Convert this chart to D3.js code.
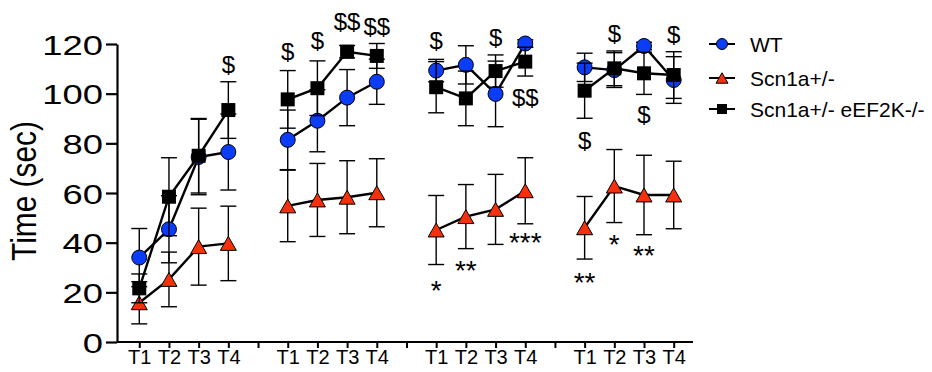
<!DOCTYPE html>
<html><head><meta charset="utf-8">
<script src="https://cdn.jsdelivr.net/npm/d3@7"></script>
<style>body{margin:0;background:#fff}svg{display:block}text{font-family:"Liberation Sans",Arial,sans-serif;fill:#000}</style>
</head><body><svg id="c" width="932" height="372"></svg>
<script>
const trialLabels = ["T1","T2","T3","T4"];
const yTicks = [0,20,40,60,80,100,120];
const seriesNames = ["WT","Scn1a+/-","Scn1a+/- eEF2K-/-"];
const wtMean  = [34,45.4,74.5,76.5, 81.4,89.1,98.4,104.8, 109.3,111.6,99.9,120.2, 110.6,109.5,119.2,105.5];
const wtErr   = [11.7,13.5,15.2,15.3, 12,12.5,11.3,9.1, 4.5,7.7,13.2,1.5, 5.7,7,1.5,9.4];
const scnMean = [15.8,25.2,38.4,39.7, 54.8,57.2,58.3,60.1, 45.1,50.5,53.4,60.9, 46,62.8,59.2,59.2];
const scnErr  = [8.5,11,15.5,15, 14.4,14.7,14.7,13.7, 13.9,12.9,14.1,13.3, 12.6,14.7,16,13.6];
const kMean   = [21.6,58.5,75,93.4, 97.7,102.2,116.9,115.2, 102.6,98.1,109.1,112.9, 101.2,110.2,108.2,107.5];
const kErr    = [5.8,15.7,15,11.4, 11.6,11,2.5,5, 10.3,11,6.5,5.8, 11.1,7,8.5,9.4];
// annotations: index of point (group*4+trial), text, y value of glyph centre
const annIndex = [3, 4,5,6,7, 8,10,11, 8,9,11, 13,15,14,12, 12,13,14];
const annText  = ["$", "$","$","$$","$$", "$","$","$$", "*","**","***", "$","$","$","$", "**","*","**"];
const annY     = [111.6, 116.8,121.2,128.9,126.9, 121.2,122.4,98.3, 23.8,31.8,43.1, 124,123.6,91.4,81, 27,42.3,37.9];

const svg = d3.select("#c");
const x = d3.scaleLinear().domain([-0.75,18.65]).range([117,693]);
const y = d3.scaleLinear().domain([0,120]).range([342,44]);
const pos = i => Math.floor(i/4)*5 + (i%4);

// axes
const ySx = 1.3;
const yAx = svg.append("g").attr("transform","translate(117,0)")
  .call(d3.axisLeft(y).tickValues(yTicks).tickSize(11).tickSizeOuter(0).tickFormat(d3.format("d")));
yAx.select(".domain").attr("stroke-width",2.2);
yAx.selectAll(".tick line").attr("stroke-width",2.2);
yAx.selectAll(".tick text").attr("font-size",28).attr("dy","0.36em")
  .attr("font-family","Liberation Sans, Arial, sans-serif")
  .attr("transform",`scale(${ySx},1)`).attr("x",-14/ySx);

const allPos = d3.range(19);
const xAx = svg.append("g").attr("transform","translate(0,342)")
  .call(d3.axisBottom(x).tickValues(allPos).tickSize(6).tickSizeOuter(0)
    .tickFormat(k => (k%5===4) ? "" : trialLabels[k%5]));
xAx.select(".domain").attr("stroke-width",2.2).attr("d","M117,0H693");
xAx.selectAll(".tick line").attr("stroke-width",2);
xAx.selectAll(".tick text").attr("font-size",20).attr("y",8).attr("dy","0.71em")
  .attr("font-family","Liberation Sans, Arial, sans-serif");

svg.append("text").attr("transform","translate(36,191) rotate(-90) scale(1.03,1.2)")
  .attr("text-anchor","middle").attr("font-size",29).text("Time (sec)");

const triPath = (s) => { const h = s*0.87; return `M0,${-h/2}L${s/2},${h/2}L${-s/2},${h/2}Z`; };
const series = [
  {mean: wtMean, err: wtErr, shape:"circle", fill:"#0b3cf7"},
  {mean: scnMean, err: scnErr, shape:"tri", fill:"#f5300a"},
  {mean: kMean, err: kErr, shape:"square", fill:"#000"}
];
function marker(g, shape, fill, s) {
  if (shape==="circle") g.append("circle").attr("r",s/2+0.5).attr("fill",fill).attr("stroke","#000").attr("stroke-width",1);
  else if (shape==="square") g.append("rect").attr("x",-s/2).attr("y",-s/2).attr("width",s).attr("height",s).attr("fill",fill);
  else g.append("path").attr("d",triPath(s+2)).attr("fill",fill).attr("stroke","#000").attr("stroke-width",1);
}
const line = d3.line().x(d=>x(d.p)).y(d=>y(d.v));
series.forEach(se => {
  const pts = se.mean.map((v,i)=>({p:pos(i), v, e:se.err[i], g:Math.floor(i/4)}));
  const eb = svg.append("g").attr("stroke","#000").attr("stroke-width",1.4).attr("fill","none");
  pts.forEach(d => {
    const x0 = x(d.p);
    eb.append("line").attr("x1",x0).attr("x2",x0).attr("y1",y(d.v-d.e)).attr("y2",y(d.v+d.e));
    [d.v-d.e, d.v+d.e].forEach(yy => eb.append("line").attr("x1",x0-8).attr("x2",x0+8).attr("y1",y(yy)).attr("y2",y(yy)));
  });
  d3.range(4).forEach(g => {
    svg.append("path").attr("d", line(pts.filter(d=>d.g===g))).attr("fill","none").attr("stroke","#000").attr("stroke-width",2.4);
  });
  pts.forEach(d => {
    const mg = svg.append("g").attr("transform",`translate(${x(d.p)},${y(d.v)})`);
    marker(mg, se.shape, se.fill, 14);
  });
});

// annotations
annText.forEach((t,i) => {
  const star = t[0]==="*";
  const fs = star ? 28 : 24;
  const off = star ? 0.6*fs : 0.35*fs;
  svg.append("text").attr("x", x(pos(annIndex[i]))).attr("y", y(annY[i]) + off)
    .attr("text-anchor","middle").attr("font-size",fs).text(t);
});

// legend
const legY = [44,78,109];
series.forEach((se,i) => {
  svg.append("line").attr("x1",709).attr("x2",735).attr("y1",legY[i]).attr("y2",legY[i]).attr("stroke","#000").attr("stroke-width",2);
  const mg = svg.append("g").attr("transform",`translate(722,${legY[i]})`);
  marker(mg, se.shape, se.fill, 10);
  svg.append("text").attr("x",750).attr("y",legY[i]+7.5).attr("font-size",21).text(seriesNames[i]);
});
</script></body></html>
